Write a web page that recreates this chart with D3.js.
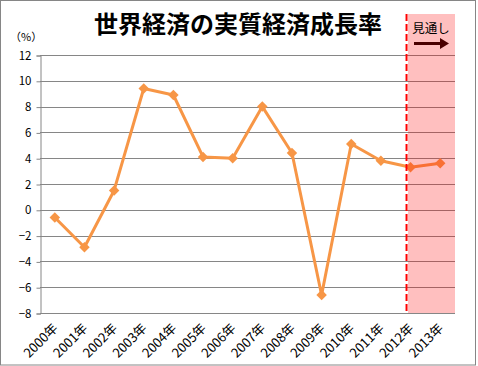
<!DOCTYPE html>
<html>
<head>
<meta charset="utf-8">
<script src="https://cdn.jsdelivr.net/npm/d3@7"></script>
<style>
  body { margin:0; background:#fff; }
  svg text { font-family: "Noto Sans CJK JP", "Noto Sans", sans-serif; }
</style>
</head>
<body>
<div id="chart"></div>
<script>
// データ
var years = ["2000年","2001年","2002年","2003年","2004年","2005年","2006年",
             "2007年","2008年","2009年","2010年","2011年","2012年","2013年"];
var growth = [-0.6, -2.9, 1.5, 9.4, 8.9, 4.1, 4.0, 8.0, 4.4, -6.6, 5.1, 3.8, 3.3, 3.6];
var yTicks = [-8, -6, -4, -2, 0, 2, 4, 6, 8, 10, 12];
var forecastFrom = "2012年";

var W = 478, H = 366,
    plot = {left:40, right:455, top:55, bottom:313};

var svg = d3.select("#chart").append("svg")
    .attr("width", W).attr("height", H);

//----- 枠
svg.append("rect")
  .attr("x", 0.5).attr("y", 0.5).attr("width", W - 3).attr("height", H - 1.5)
  .attr("fill", "#fff").attr("stroke", "#868686");

var x = d3.scaleBand().domain(years).range([plot.left, plot.right]);
var y = d3.scaleLinear().domain([-8, 12]).range([plot.bottom, plot.top]);

//----- グリッド
svg.append("g").selectAll("line").data(yTicks.slice(1)).join("line")
  .attr("x1", plot.left).attr("x2", plot.right)
  .attr("y1", function(d){ return Math.round(y(d)) + 0.5; })
  .attr("y2", function(d){ return Math.round(y(d)) + 0.5; })
  .attr("stroke", "#868686").attr("stroke-width", 1);

//----- 軸
var yAxis = svg.append("g")
  .attr("transform", "translate(" + (plot.left + 0.5) + ",0.5)")
  .call(d3.axisLeft(y).tickValues(yTicks).tickSize(4).tickPadding(5).tickFormat(d3.format("d")));
yAxis.select(".domain").attr("stroke", "#868686");
yAxis.selectAll(".tick line").attr("stroke", "#868686");
yAxis.selectAll("text").attr("font-size", 11.5).attr("fill", "#000")
  .attr("font-family", "'Liberation Sans', Arial, sans-serif");

svg.append("line")
  .attr("x1", plot.left).attr("x2", plot.right)
  .attr("y1", Math.round(plot.bottom) + 0.5).attr("y2", Math.round(plot.bottom) + 0.5)
  .attr("stroke", "#868686");

svg.append("g").selectAll("text").data(years).join("text")
  .attr("transform", function(d){
    return "translate(" + (x(d) + x.bandwidth()/2 + 4) + "," + (plot.bottom + 16) + ") rotate(-45)";
  })
  .attr("text-anchor", "end")
  .attr("font-size", 13)
  .attr("fill", "#000")
  .text(function(d){ return d; });

//----- 折れ線
var line = d3.line()
  .x(function(d, i){ return x(years[i]) + x.bandwidth()/2; })
  .y(function(d){ return y(d); });

svg.append("path").datum(growth)
  .attr("d", line)
  .attr("fill", "none").attr("stroke", "#F79646").attr("stroke-width", 3)
  .attr("stroke-linejoin", "round");

svg.append("g").selectAll("path").data(growth).join("path")
  .attr("d", d3.symbol().type(d3.symbolDiamond2).size(70))
  .attr("transform", function(d, i){
    return "translate(" + (x(years[i]) + x.bandwidth()/2) + "," + y(d) + ")";
  })
  .attr("fill", "#F79646");

//----- 見通し帯
var fx = x(forecastFrom) + x.bandwidth()/2 - 4;
svg.append("rect")
  .attr("x", fx + 1.5).attr("y", 14).attr("width", plot.right - fx - 1.5).attr("height", plot.bottom - 14)
  .attr("fill", "rgba(255,0,0,0.25)");
svg.append("line")
  .attr("x1", fx).attr("x2", fx).attr("y1", 14).attr("y2", plot.bottom)
  .attr("stroke", "#FF0000").attr("stroke-width", 2).attr("stroke-dasharray", "7,3");

svg.append("text")
  .attr("x", 431).attr("y", 33).attr("text-anchor", "middle")
  .attr("font-size", 12.5).attr("fill", "#000")
  .text("見通し");
svg.append("path")
  .attr("d", "M414,42 L440,42 L440,38 L449,43.5 L440,49 L440,45 L414,45 Z")
  .attr("fill", "#4A0000");

//----- タイトル
svg.append("text")
  .attr("x", 238).attr("y", 33).attr("text-anchor", "middle")
  .attr("font-size", 24).attr("font-weight", "bold").attr("fill", "#000")
  .text("世界経済の実質経済成長率");

svg.append("text")
  .attr("x", 10).attr("y", 41)
  .attr("font-size", 11).attr("fill", "#000")
  .text("（%）");
</script>
</body>
</html>
